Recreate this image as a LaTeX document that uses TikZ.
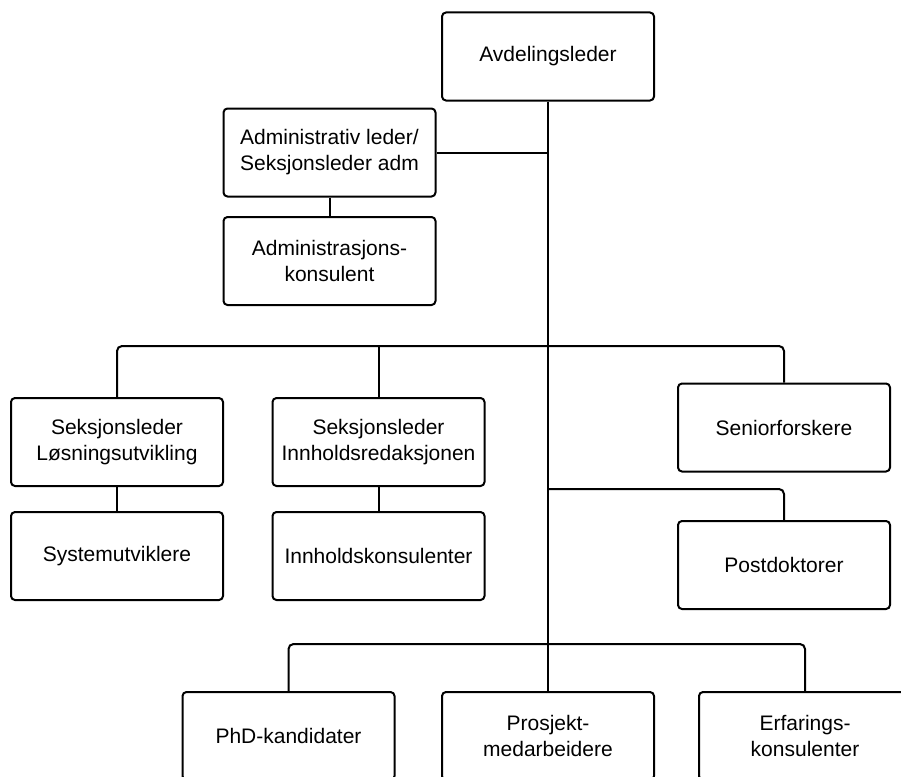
\documentclass[tikz,border=0pt]{standalone}
\usepackage{fontspec}
\setmainfont{Liberation Sans}
\begin{document}
\begin{tikzpicture}[x=1pt,y=-1pt,
  box/.style={draw, line width=2pt, rounded corners=4pt, minimum width=212pt, minimum height=88pt,
    align=center, font=\fontsize{21}{26}\selectfont, inner sep=0pt},
  conn/.style={line width=2pt, rounded corners=5pt}]
\useasboundingbox (0,0) rectangle (901,776);
\node[box] (A) at (548,56.5) {Avdelingsleder};
\node[box] (B) at (329.5,152.5) {Administrativ leder/\\Seksjonsleder adm};
\node[box] (C) at (329.5,261) {Administrasjons-\\konsulent};
\node[box] (D) at (117,442) {Seksjonsleder\\Løsningsutvikling};
\node[box] (E) at (117,556) {Systemutviklere};
\node[box] (F) at (378.5,442) {Seksjonsleder\\Innholdsredaksjonen};
\node[box] (G) at (378.5,556) {Innholdskonsulenter};
\node[box] (H) at (784,427.5) {Seniorforskere};
\node[box] (I) at (784,565) {Postdoktorer};
\node[box] (J) at (288.5,736) {PhD-kandidater};
\node[box] (K) at (548,736) {Prosjekt-\\medarbeidere};
\node[box] (L) at (805,736) {Erfarings-\\konsulenter};
\coordinate (r1) at (548,346);
\coordinate (r2) at (548,489);
\coordinate (r3) at (548,644);
\draw[conn] (A.south) -- (K.north);
\draw[conn] (B.east) -- (B.east -| A.south);
\draw[conn] (B.south) -- (C.north);
\draw[conn] (D.north) |- (r1) -| (H.north);
\draw[conn] (F.north) -- (F.north |- r1);
\draw[conn] (D.south) -- (E.north);
\draw[conn] (F.south) -- (G.north);
\draw[conn] (r2) -| (I.north);
\draw[conn] (J.north) |- (r3) -| (L.north);
\end{tikzpicture}
\end{document}
